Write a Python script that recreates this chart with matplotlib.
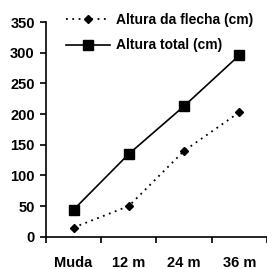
import matplotlib
matplotlib.use("Agg")
import matplotlib.pyplot as plt

categories = ["Muda", "12 m", "24 m", "36 m"]
altura_flecha = [15, 50, 140, 203]
altura_total = [44, 135, 213, 296]

plt.rcParams["font.family"] = "Liberation Sans"
plt.rcParams["font.weight"] = "bold"

fig = plt.figure(figsize=(2.67, 2.69), dpi=100)
ax = fig.add_axes([0.172, 0.12, 0.828, 0.798])

x = list(range(len(categories)))
ax.plot(x, altura_flecha, linestyle=(0, (1, 2.5)), color="black", linewidth=1.3,
        marker="D", markersize=4, label="Altura da flecha (cm)")
ax.plot(x, altura_total, linestyle="-", color="black", linewidth=1.2,
        marker="s", markersize=6.5, label="Altura total (cm)")

ax.set_xlim(-0.5, 3.41)
ax.set_ylim(0, 350)
ax.set_yticks(range(0, 351, 50))

# category labels sit between the tick marks
ax.set_xticks(x)
ax.set_xticklabels(categories)
ax.set_xticks([-0.5, 0.5, 1.5, 2.5, 3.5], minor=True)
ax.tick_params(axis="x", which="major", length=0, pad=14, labelsize=10.5)
ax.tick_params(axis="x", which="minor", length=4, width=1.2, direction="out")
ax.tick_params(axis="y", length=4, width=1.2, direction="out", labelsize=10.5, pad=4)

for side in ["top", "right"]:
    ax.spines[side].set_visible(False)
for side in ["left", "bottom"]:
    ax.spines[side].set_linewidth(1.2)

ax.legend(loc="upper left", bbox_to_anchor=(0.065, 1.07), frameon=False,
          fontsize=10, handlelength=3.2, handletextpad=0.4, labelspacing=0.85,
          borderaxespad=0)

fig.savefig("out.png", dpi=100)
